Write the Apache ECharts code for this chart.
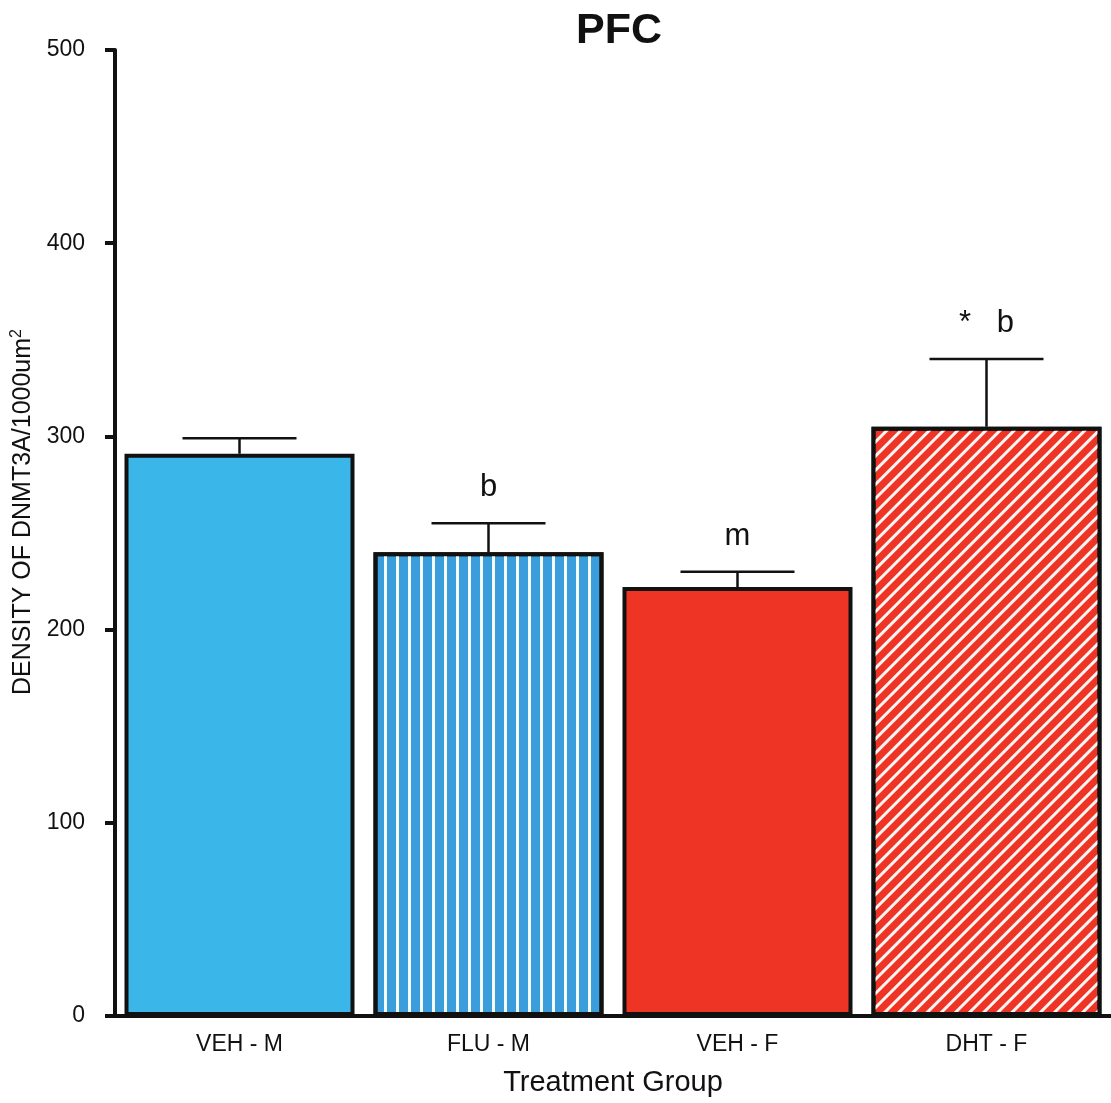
<!DOCTYPE html>
<html>
<head>
<meta charset="utf-8">
<title>PFC</title>
<script src="https://cdn.jsdelivr.net/npm/echarts@6/dist/echarts.min.js"></script>
<style>
  html, body { margin: 0; padding: 0; background: #fff; }
  #chart { width: 1111px; height: 1103px; }
</style>
</head>
<body>
<div id="chart"></div>
<script>
// data
const categories = ['VEH - M', 'FLU - M', 'VEH - F', 'DHT - F'];
const means = [291, 240, 222, 305];
const errTops = [299, 255, 230, 340];
const marks = ['', 'b', 'm', '*   b'];

const FONT = '"Liberation Sans", Arial, sans-serif';
const blue = '#3bb6e8';
const blueDark = '#3a9ddc';
const red = '#ee3424';

// fill of each bar
const barStyles = [
  { color: blue },
  {
    color: blueDark,
    decal: { symbol: 'rect', symbolSize: 1, color: 'rgba(255,255,255,0.95)', dashArrayX: [3, 9], dashArrayY: [1, 0] }
  },
  { color: red },
  {
    color: red,
    decal: { symbol: 'rect', symbolSize: 1, color: 'rgba(255,255,255,0.95)', dashArrayX: [1, 0], dashArrayY: [3, 6.5], rotation: -Math.PI / 4 }
  }
];

const chart = echarts.init(document.getElementById('chart'));

const option = {
  backgroundColor: '#fff',
  animation: false,
  title: {
    text: 'PFC',
    left: 614,
    top: 5,
    textAlign: 'center',
    textStyle: { fontFamily: FONT, fontSize: 43, fontWeight: 'bold', color: '#111' }
  },
  grid: { left: 115, right: -3, top: 50, bottom: 87, containLabel: false },
  xAxis: {
    type: 'category',
    data: categories,
    name: 'Treatment Group',
    nameLocation: 'middle',
    nameGap: 52,
    nameTextStyle: { fontFamily: FONT, fontSize: 29, color: '#111' },
    axisLine: { lineStyle: { color: '#111', width: 4 } },
    axisTick: { alignWithLabel: true, length: 8, lineStyle: { color: '#111', width: 3 } },
    axisLabel: { fontFamily: FONT, fontSize: 23, color: '#111', margin: 17 }
  },
  yAxis: {
    type: 'value',
    min: 0,
    max: 500,
    interval: 100,
    name: '{a|DENSITY OF DNMT3A/1000um}{s|2}',
    nameLocation: 'middle',
    nameGap: 71,
    nameTextStyle: {
      padding: [0, 0, 0, 42],
      rich: {
        a: { fontFamily: FONT, fontSize: 25, color: '#111' },
        s: { fontFamily: FONT, fontSize: 16, color: '#111', padding: [0, 0, 14, 0] }
      }
    },
    axisLine: { show: true, lineStyle: { color: '#111', width: 4 } },
    axisTick: { show: true, length: 10, lineStyle: { color: '#111', width: 4 } },
    axisLabel: { fontFamily: FONT, fontSize: 23, color: '#111', margin: 30 },
    splitLine: { show: false }
  },
  series: [
    {
      type: 'bar',
      barWidth: 230,
      data: means.map((v, i) => ({
        value: v,
        itemStyle: Object.assign({ borderColor: '#111', borderWidth: 4 }, barStyles[i])
      })),
      z: 2
    },
    {
      type: 'custom',
      z: 5,
      data: means.map((v, i) => [i, v, errTops[i]]),
      renderItem: function (params, api) {
        const i = api.value(0);
        const base = api.coord([i, api.value(1)]);
        const top = api.coord([i, api.value(2)]);
        const half = 57;
        const children = [
          { type: 'line', shape: { x1: base[0], y1: base[1], x2: top[0], y2: top[1] }, style: { stroke: '#111', lineWidth: 2.5 } },
          { type: 'line', shape: { x1: top[0] - half, y1: top[1], x2: top[0] + half, y2: top[1] }, style: { stroke: '#111', lineWidth: 2.5 } }
        ];
        const txt = marks[params.dataIndex];
        if (txt) {
          children.push({
            type: 'text',
            style: {
              text: txt, x: top[0], y: top[1] - 20,
              align: 'center', verticalAlign: 'bottom',
              font: '31px ' + FONT, fill: '#111'
            }
          });
        }
        return { type: 'group', children: children };
      }
    }
  ]
};

chart.setOption(option);
</script>
</body>
</html>
